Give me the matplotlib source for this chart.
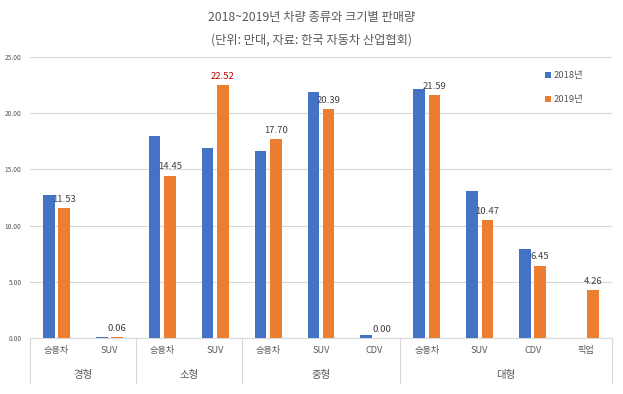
import matplotlib
matplotlib.use("Agg")
import matplotlib.pyplot as plt
import numpy as np

plt.rcParams['font.family'] = ['Noto Sans CJK KR', 'DejaVu Sans']

categories = ['승용차', 'SUV', '승용차', 'SUV', '승용차', 'SUV', 'CDV', '승용차', 'SUV', 'CDV', '픽업']
groups = ['경형', '소형', '중형', '대형']
group_sizes = [2, 2, 3, 4]
sales_2018 = [12.7, 0.05, 17.95, 16.9, 16.6, 21.85, 0.3, 22.15, 13.05, 7.9, 0.0]
sales_2019 = [11.53, 0.06, 14.45, 22.52, 17.70, 20.39, 0.00, 21.59, 10.47, 6.45, 4.26]
label_colors = ['#404040'] * 11
label_colors[3] = '#C00000'
yticks = [0, 5, 10, 15, 20, 25]

blue = '#4472C4'
orange = '#ED7D31'
txt = '#595959'

fig = plt.figure(figsize=(6.23, 3.94), dpi=100)
ax = fig.add_axes([30/623, 1-338/394, (612-30)/623, (338-57)/394])

x = np.arange(len(categories))
w = 0.22
off = 0.144
ax.bar(x - off, sales_2018, w, color=blue, label='2018년', zorder=3)
ax.bar(x + off, sales_2019, w, color=orange, label='2019년', zorder=3)

for xi, v, c in zip(x, sales_2019, label_colors):
    ax.annotate(f'{v:.2f}', (xi + off, v), xytext=(0, 3), textcoords='offset points',
                ha='center', va='bottom', fontsize=6.8, color=c)

ax.set_xlim(-0.5, len(categories) - 0.5)
ax.set_ylim(0, 25)
ax.set_yticks(yticks)
ax.set_yticklabels([f'{t:.2f}' for t in yticks], fontsize=4.8, color=txt)
ax.yaxis.grid(True, color='#D9D9D9', linewidth=0.8, zorder=0)
ax.tick_params(axis='y', length=0, pad=6)
ax.tick_params(axis='x', length=0, pad=6)
ax.set_xticks(x)
ax.set_xticklabels(categories, fontsize=6.6, color=txt)
for s in ['top', 'right', 'left']:
    ax.spines[s].set_visible(False)
ax.spines['bottom'].set_color('#D9D9D9')
ax.spines['bottom'].set_linewidth(0.8)

# group labels and separators
trans = ax.get_xaxis_transform()
start = 0
bounds = [-0.5]
for g, n in zip(groups, group_sizes):
    center = start + (n - 1) / 2
    ax.text(center, -0.13, g, transform=trans, ha='center', va='center', fontsize=7.5, color=txt)
    start += n
    bounds.append(start - 0.5)
for b in bounds:
    ax.plot([b, b], [0, -0.16], transform=trans, color='#D9D9D9', linewidth=0.8, clip_on=False)

leg = ax.legend(loc='upper left', bbox_to_anchor=(0.87, 0.98), frameon=False, fontsize=6.8,
                handlelength=0.6, handleheight=0.6, handletextpad=0.3, labelspacing=1.6)
for t in leg.get_texts():
    t.set_color(txt)

fig.text(0.5, 1-18/394, '2018~2019년 차량 종류와 크기별 판매량', ha='center', va='center', fontsize=8.8, color=txt)
fig.text(0.5, 1-40/394, '(단위: 만대, 자료: 한국 자동차 산업협회)', ha='center', va='center', fontsize=8.8, color=txt)

fig.savefig('out.png', dpi=100)
